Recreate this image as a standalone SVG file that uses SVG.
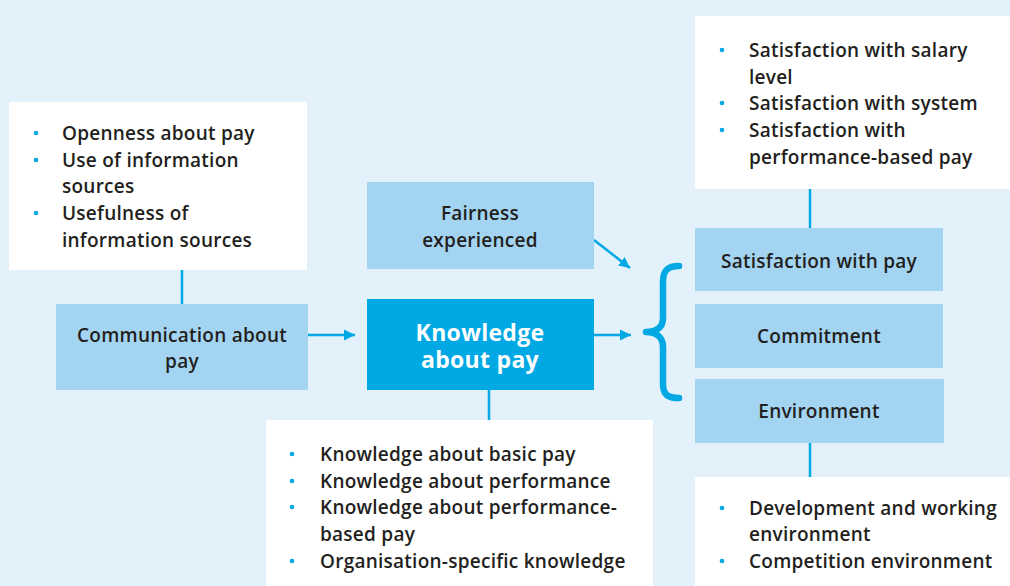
<svg xmlns="http://www.w3.org/2000/svg" width="1010" height="586" viewBox="0 0 1010 586">
<style>
.bg{fill:#e3f1fb}
.white{fill:#ffffff}
.mid{fill:#a3d5f3}
.dark{fill:#00a8e4}
.t{font-family:"Open Sans","Noto Sans",sans-serif;font-size:19px;letter-spacing:0.25px;font-weight:600;fill:#231f20}
.c{text-anchor:middle}
.w{font-family:"Open Sans","Noto Sans",sans-serif;font-size:23px;letter-spacing:0.3px;font-weight:700;fill:#ffffff;text-anchor:middle}
.b{fill:#00a8e4}
.ln{stroke:#00a8e4;stroke-width:2.5;fill:none}
</style>
<defs>
<marker id="ah" viewBox="0 0 10 10" refX="10" refY="5" markerWidth="4.4" markerHeight="6.4" markerUnits="strokeWidth" orient="auto">
<path d="M0,0 L10,5 L0,10 Z" fill="#00a8e4"/>
</marker>
</defs>
<rect class="bg" x="0" y="0" width="1010" height="586"/>

<g id="connectors">
<line class="ln" x1="182" y1="270" x2="182" y2="304"/>
<line class="ln" x1="308" y1="335" x2="355" y2="335" marker-end="url(#ah)"/>
<line class="ln" x1="594" y1="335" x2="631" y2="335" marker-end="url(#ah)"/>
<line class="ln" x1="594" y1="240" x2="630" y2="268" marker-end="url(#ah)"/>
<line class="ln" x1="489" y1="390" x2="489" y2="420"/>
<line class="ln" x1="810" y1="189" x2="810" y2="228"/>
<line class="ln" x1="810" y1="443" x2="810" y2="477"/>
<path d="M679,266 C668,266 663,270 663,282 L663,318 C663,328 656,332 646,332 C656,332 663,337 663,347 L663,384 C663,395 668,398 679,398" stroke="#00a8e4" stroke-width="6.5" fill="none" stroke-linecap="round" stroke-linejoin="round"/>
</g>

<g id="comm-details">
<rect class="white" x="9" y="102" width="298" height="168"/>
<circle class="b" cx="36" cy="133" r="2.3"/>
<circle class="b" cx="36" cy="160" r="2.3"/>
<circle class="b" cx="36" cy="213" r="2.3"/>
<text class="t" x="62" y="140">Openness about pay</text>
<text class="t" x="62" y="167">Use of information</text>
<text class="t" x="62" y="193">sources</text>
<text class="t" x="62" y="220">Usefulness of</text>
<text class="t" x="62" y="247">information sources</text>
</g>

<g id="communication">
<rect class="mid" x="56" y="304" width="252" height="86"/>
<text class="t c" x="182" y="342">Communication about</text>
<text class="t c" x="182" y="368">pay</text>
</g>

<g id="fairness">
<rect class="mid" x="367" y="182" width="227" height="87"/>
<text class="t c" x="480" y="220">Fairness</text>
<text class="t c" x="480" y="247">experienced</text>
</g>

<g id="knowledge">
<rect class="dark" x="367" y="299" width="227" height="91"/>
<text class="w" x="480" y="341">Knowledge</text>
<text class="w" x="480" y="368">about pay</text>
</g>

<g id="knowledge-details">
<rect class="white" x="266" y="420" width="387" height="166"/>
<circle class="b" cx="292" cy="454" r="2.3"/>
<circle class="b" cx="292" cy="481" r="2.3"/>
<circle class="b" cx="292" cy="507" r="2.3"/>
<circle class="b" cx="292" cy="561" r="2.3"/>
<text class="t" x="320" y="461">Knowledge about basic pay</text>
<text class="t" x="320" y="488">Knowledge about performance</text>
<text class="t" x="320" y="514">Knowledge about performance-</text>
<text class="t" x="320" y="541">based pay</text>
<text class="t" x="320" y="568">Organisation-specific knowledge</text>
</g>

<g id="satisfaction-details">
<rect class="white" x="695" y="16" width="315" height="173"/>
<circle class="b" cx="722" cy="50" r="2.3"/>
<circle class="b" cx="722" cy="103" r="2.3"/>
<circle class="b" cx="722" cy="130" r="2.3"/>
<text class="t" x="749" y="57">Satisfaction with salary</text>
<text class="t" x="749" y="84">level</text>
<text class="t" x="749" y="110">Satisfaction with system</text>
<text class="t" x="749" y="137">Satisfaction with</text>
<text class="t" x="749" y="164">performance-based pay</text>
</g>

<g id="satisfaction">
<rect class="mid" x="695" y="228" width="248" height="63"/>
<text class="t c" x="819" y="268">Satisfaction with pay</text>
</g>

<g id="commitment">
<rect class="mid" x="695" y="304" width="248" height="64"/>
<text class="t c" x="819" y="343">Commitment</text>
</g>

<g id="environment">
<rect class="mid" x="695" y="379" width="249" height="64"/>
<text class="t c" x="819" y="418">Environment</text>
</g>

<g id="environment-details">
<rect class="white" x="695" y="477" width="315" height="109"/>
<circle class="b" cx="722" cy="508" r="2.3"/>
<circle class="b" cx="722" cy="561" r="2.3"/>
<text class="t" x="749" y="515">Development and working</text>
<text class="t" x="749" y="541">environment</text>
<text class="t" x="749" y="568">Competition environment</text>
</g>
</svg>
